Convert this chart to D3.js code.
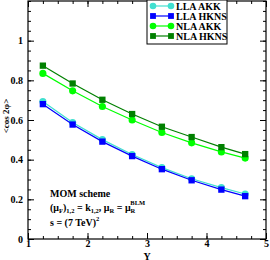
<!DOCTYPE html>
<html>
<head>
  <meta charset="utf-8">
  <style>
    body { margin: 0; background: #fff; }
    svg text { font-family: "Liberation Serif", "Times New Roman", serif; font-weight: bold; }
  </style>
</head>
<body>
  <script src="https://d3js.org/d3.v7.min.js"></script>
  <svg width="270" height="260"></svg>
  <script>
    // rapidity points and the four curves
    var ys = [1.25, 1.75, 2.25, 2.75, 3.25, 3.75, 4.25, 4.65];
    var llaAkk  = [0.693, 0.587, 0.501, 0.426, 0.360, 0.304, 0.259, 0.227];
    var llaHkns = [0.680, 0.577, 0.491, 0.418, 0.352, 0.296, 0.249, 0.216];
    var nlaAkk  = [0.835, 0.747, 0.668, 0.600, 0.537, 0.485, 0.439, 0.408];
    var nlaHkns = [0.874, 0.784, 0.702, 0.630, 0.566, 0.514, 0.463, 0.428];
    var xTicks = [1, 2, 3, 4, 5];
    var yTicks = [0, 0.2, 0.4, 0.6, 0.8, 1];

    var series = [
      {name: "LLA AKK",  vals: llaAkk,  color: "#40e0d0", sym: "circle"},
      {name: "LLA HKNS", vals: llaHkns, color: "#0000ff", sym: "square"},
      {name: "NLA AKK",  vals: nlaAkk,  color: "#00ff00", sym: "circle"},
      {name: "NLA HKNS", vals: nlaHkns, color: "#008000", sym: "square"}
    ];

    var svg = d3.select("svg"),
        margin = {top: 1, right: 4, bottom: 21, left: 28},
        width = 270 - margin.left - margin.right,
        height = 260 - margin.top - margin.bottom;

    var x = d3.scaleLinear().domain([1, 5]).range([0, width]),
        y = d3.scaleLinear().domain([0, 1.2]).range([height, 0]);

    var g = svg.append("g")
        .attr("transform", "translate(" + margin.left + "," + margin.top + ")");

    // ticks pointing inwards on all four sides
    var minorX = d3.range(1, 5.001, 0.25), minorY = d3.range(0, 1.2001, 0.05);
    g.append("g").attr("transform", "translate(0," + height + ")")
      .call(d3.axisBottom(x).tickValues(xTicks).tickSize(-6).tickPadding(1).tickFormat(d3.format("d")));
    g.append("g").attr("transform", "translate(0," + height + ")")
      .call(d3.axisBottom(x).tickValues(minorX).tickSize(-3).tickFormat(""));
    g.append("g")
      .call(d3.axisTop(x).tickValues(xTicks).tickSize(-6).tickFormat(""));
    g.append("g")
      .call(d3.axisTop(x).tickValues(minorX).tickSize(-3).tickFormat(""));
    g.append("g")
      .call(d3.axisLeft(y).tickValues(yTicks).tickSize(-6).tickPadding(5).tickFormat(function(d) { return d === 0 ? "0" : d3.format("")(d); }));
    g.append("g")
      .call(d3.axisLeft(y).tickValues(minorY).tickSize(-3).tickFormat(""));
    g.append("g").attr("transform", "translate(" + width + ",0)")
      .call(d3.axisRight(y).tickValues(yTicks).tickSize(-6).tickFormat(""));
    g.append("g").attr("transform", "translate(" + width + ",0)")
      .call(d3.axisRight(y).tickValues(minorY).tickSize(-3).tickFormat(""));

    g.selectAll(".domain").remove();
    g.selectAll(".tick line").attr("stroke", "#000").attr("stroke-width", 1);
    g.selectAll(".tick text").attr("font-size", 10).attr("fill", "#000");

    g.append("rect").attr("width", width).attr("height", height)
      .attr("fill", "none").attr("stroke", "#000").attr("stroke-width", 1.2);

    // curves
    var line = d3.line().x(function(d, i) { return x(ys[i]); }).y(function(d) { return y(d); });
    series.forEach(function(s) {
      g.append("path").datum(s.vals)
        .attr("d", line).attr("fill", "none")
        .attr("stroke", s.color).attr("stroke-width", 1.2);
      var sym = d3.symbol().type(s.sym === "circle" ? d3.symbolCircle : d3.symbolSquare).size(40);
      g.selectAll(null).data(s.vals).enter().append("path")
        .attr("d", sym)
        .attr("transform", function(d, i) { return "translate(" + x(ys[i]) + "," + y(d) + ")"; })
        .attr("fill", s.color);
    });

    // legend
    var leg = svg.append("g").attr("transform", "translate(147,0)");
    leg.append("rect").attr("x", 0).attr("y", 0).attr("width", 80).attr("height", 44)
      .attr("fill", "#fff").attr("stroke", "#000").attr("stroke-width", 1);
    series.forEach(function(s, i) {
      var ly = 6 + i * 10;
      leg.append("line").attr("x1", 6).attr("x2", 24).attr("y1", ly).attr("y2", ly)
        .attr("stroke", s.color).attr("stroke-width", 1.2);
      var sym = d3.symbol().type(s.sym === "circle" ? d3.symbolCircle : d3.symbolSquare).size(34);
      [6, 24].forEach(function(px) {
        leg.append("path").attr("d", sym).attr("transform", "translate(" + px + "," + ly + ")")
          .attr("fill", s.color);
      });
      leg.append("text").attr("x", 29).attr("y", ly + 3.5).attr("font-size", 10)
        .text(s.name);
    });

    // axis titles
    svg.append("text").attr("x", 147).attr("y", 259.5).attr("text-anchor", "middle")
      .attr("font-size", 10).text("Y");
    svg.append("text").attr("transform", "translate(9,116) rotate(-90)")
      .attr("text-anchor", "middle").attr("font-size", 9).text("<cos 2φ>");

    // annotation
    var ann = svg.append("g").attr("font-size", 10);
    ann.append("text").attr("x", 50).attr("y", 197).text("MOM scheme");
    var t2 = ann.append("text").attr("x", 50).attr("y", 211);
    t2.append("tspan").text("(μ");
    t2.append("tspan").attr("font-size", 6.5).attr("dy", 2).text("F");
    t2.append("tspan").attr("dy", -2).text(")");
    t2.append("tspan").attr("font-size", 6.5).attr("dy", 2).text("1,2");
    t2.append("tspan").attr("dy", -2).text(" = k");
    t2.append("tspan").attr("font-size", 6.5).attr("dy", 2).text("1,2");
    t2.append("tspan").attr("dy", -2).text(", μ");
    t2.append("tspan").attr("font-size", 6.5).attr("dy", 2).text("R");
    t2.append("tspan").attr("dy", -2).text(" = μ");
    t2.append("tspan").attr("font-size", 6.5).attr("dy", 2).text("R");
    t2.append("tspan").attr("font-size", 6.5).attr("dx", -5).attr("dy", -8).text("BLM");
    var t3 = ann.append("text").attr("x", 50).attr("y", 226);
    t3.append("tspan").text("s = (7 TeV)");
    t3.append("tspan").attr("font-size", 6.5).attr("dy", -5).text("2");
  </script>
</body>
</html>
